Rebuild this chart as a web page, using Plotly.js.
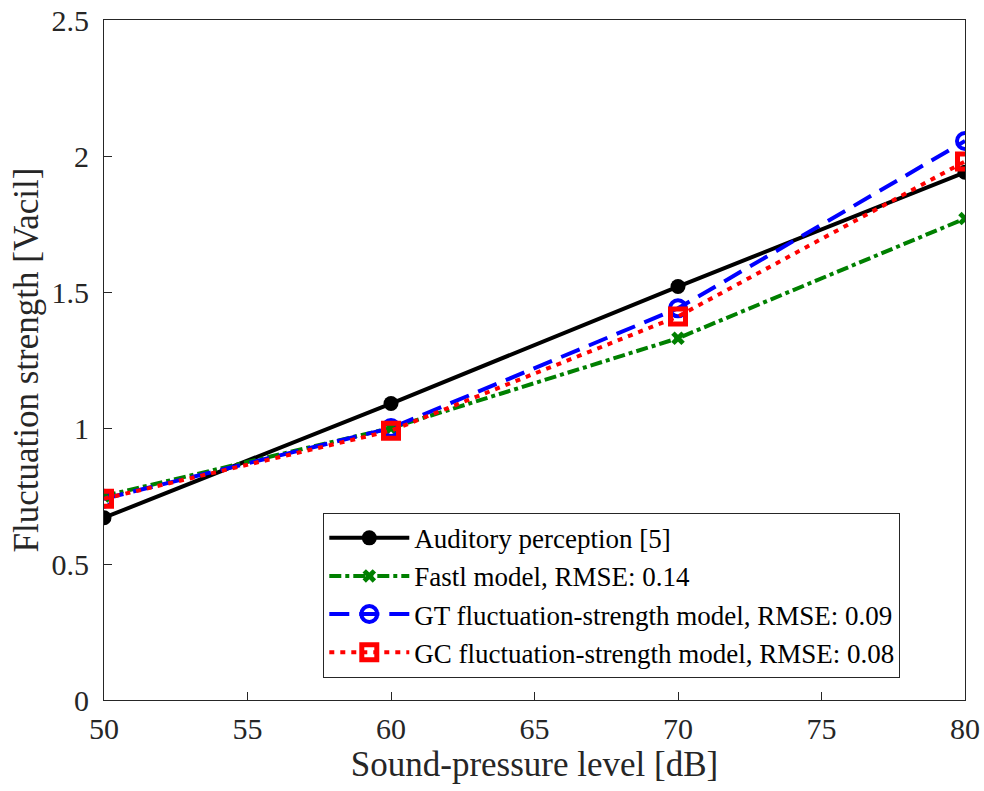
<!DOCTYPE html>
<html>
<head>
<meta charset="utf-8">
<script src="https://cdn.plot.ly/plotly-3.0.1.min.js"></script>
<style>html,body{margin:0;padding:0;background:#fff;}</style>
</head>
<body>
<div id="chart" style="width:984px;height:791px;"></div>
<script>
const levels = [50, 60, 70, 80];
const auditory = [0.67, 1.09, 1.52, 1.94];
const fastl = [0.75, 1.00, 1.33, 1.77];
const gtModel = [0.74, 1.00, 1.44, 2.055];
const gcModel = [0.74, 0.99, 1.41, 1.98];
const names = [
  "Auditory perception [5]",
  "Fastl model, RMSE: 0.14",
  "GT fluctuation-strength model, RMSE: 0.09",
  "GC fluctuation-strength model, RMSE: 0.08"
];
const xTicks = [50, 55, 60, 65, 70, 75, 80];
const yTicks = [0, 0.5, 1, 1.5, 2, 2.5];

const font = "Liberation Serif";
const traces = [
  {x: levels, y: auditory, name: names[0], mode: "lines+markers",
   line: {color: "#000000", width: 4},
   marker: {symbol: "circle", size: 15, color: "#000000"}},
  {x: levels, y: fastl, name: names[1], mode: "lines+markers",
   line: {color: "#008000", width: 4, dash: "dashdot"},
   marker: {symbol: "x", size: 12, color: "#008000"}},
  {x: levels, y: gtModel, name: names[2], mode: "lines+markers",
   line: {color: "#0000ff", width: 4, dash: "20px,10px"},
   marker: {symbol: "circle-open", size: 16, color: "#0000ff", line: {width: 4, color: "#0000ff"}}},
  {x: levels, y: gcModel, name: names[3], mode: "lines+markers",
   line: {color: "#ff0000", width: 4, dash: "5px,6px"},
   marker: {symbol: "square-open", size: 15, color: "#ff0000", line: {width: 5, color: "#ff0000"}}}
];

const layout = {
  width: 984, height: 791,
  margin: {l: 104, r: 19, t: 20, b: 91},
  paper_bgcolor: "#ffffff", plot_bgcolor: "#ffffff",
  font: {family: font, color: "#262626", size: 30},
  showlegend: true,
  legend: {
    x: 0.2547, y: 0.154, xanchor: "left", yanchor: "middle",
    bgcolor: "#ffffff", bordercolor: "#262626", borderwidth: 1,
    font: {family: font, size: 27, color: "#000000"},
    itemwidth: 80, tracegroupgap: 0
  },
  xaxis: {
    range: [50, 80], tickvals: xTicks, ticktext: xTicks.map(String),
    ticks: "inside", ticklen: 8, tickcolor: "#262626", tickwidth: 1,
    ticklabelstandoff: 2,
    showgrid: false, zeroline: false,
    showline: true, linecolor: "#262626", linewidth: 1, mirror: true,
    tickfont: {family: font, size: 30, color: "#262626"},
    title: {text: "Sound-pressure level [dB]", font: {family: font, size: 35, color: "#262626"}, standoff: 6}
  },
  yaxis: {
    range: [0, 2.5], tickvals: yTicks, ticktext: ["0", "0.5", "1", "1.5", "2", "2.5"],
    ticks: "inside", ticklen: 8, tickcolor: "#262626", tickwidth: 1,
    ticklabelstandoff: 8,
    showgrid: false, zeroline: false,
    showline: true, linecolor: "#262626", linewidth: 1, mirror: true,
    tickfont: {family: font, size: 30, color: "#262626"},
    title: {text: "Fluctuation strength [Vacil]", font: {family: font, size: 35, color: "#262626"}, standoff: 2}
  }
};

Plotly.newPlot("chart", traces, layout, {displayModeBar: false, staticPlot: true});
</script>
</body>
</html>
